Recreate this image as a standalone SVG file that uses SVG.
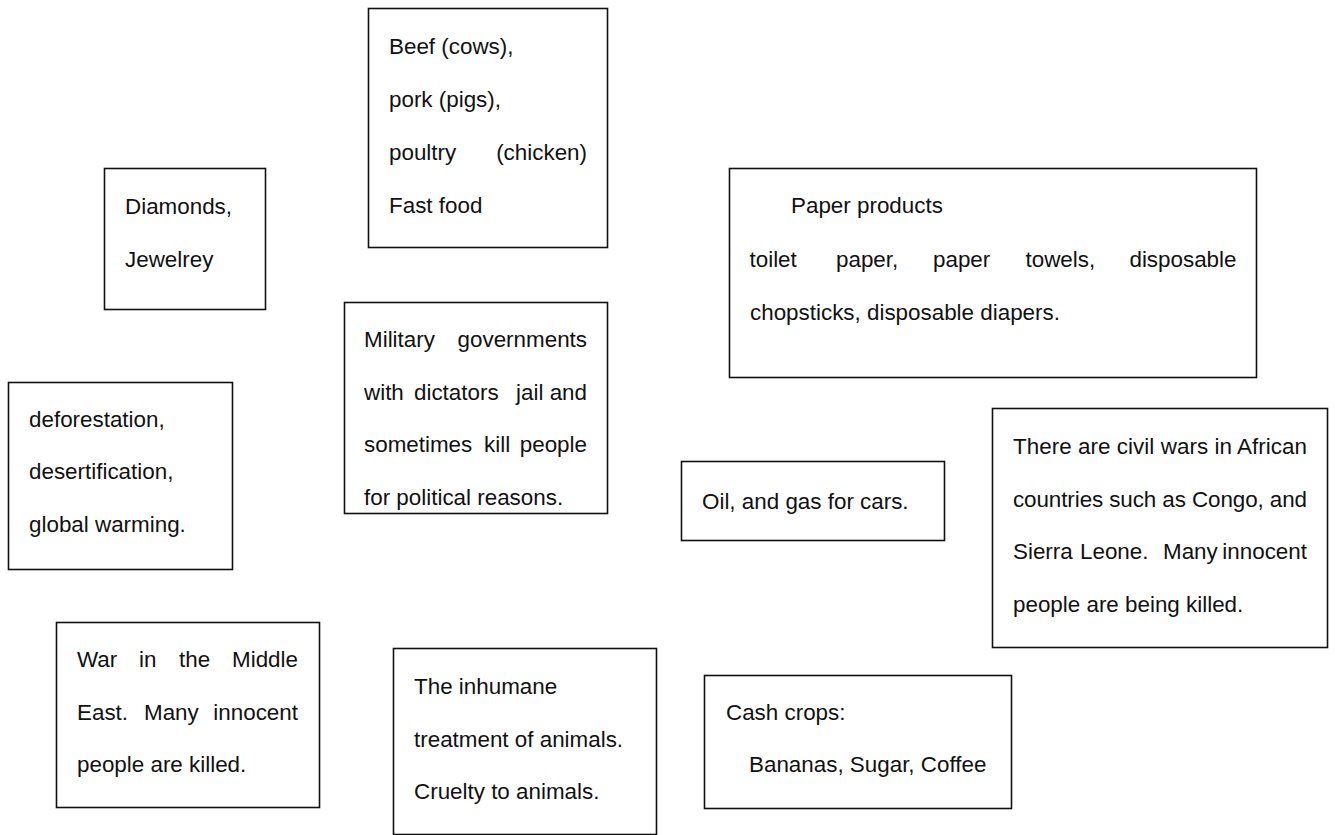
<svg xmlns="http://www.w3.org/2000/svg" width="1335" height="835" viewBox="0 0 1335 835">
<style>
.box{fill:#fff;stroke:#111;stroke-width:1.6}
text{font-family:"Liberation Sans",Arial,sans-serif;font-size:22.4px;fill:#111}
.e{text-anchor:end}
</style>
<rect width="1335" height="835" fill="#fff"/>
<g id="connectors"></g>
<g id="diamonds">
<rect class="box" x="104.5" y="168.5" width="161" height="141"/>
<text x="125" y="214">Diamonds,</text>
<text x="125" y="267">Jewelrey</text>
</g>
<g id="beef">
<rect class="box" x="368.5" y="8.5" width="239" height="239"/>
<text x="389" y="54">Beef (cows),</text>
<text x="389" y="107">pork (pigs),</text>
<text x="389" y="160">poultry</text><text class="e" x="587" y="160">(chicken)</text>
<text x="389" y="213">Fast food</text>
</g>
<g id="paper">
<rect class="box" x="729.5" y="168.5" width="527" height="209"/>
<text x="791" y="213">Paper products</text>
<text y="267"><tspan x="749.5">toilet</tspan><tspan x="836">paper,</tspan><tspan x="933">paper</tspan><tspan x="1025.5">towels,</tspan></text>
<text class="e" x="1236.5" y="267">disposable</text>
<text x="750" y="320">chopsticks, disposable diapers.</text>
</g>
<g id="military">
<rect class="box" x="344.5" y="302.5" width="263" height="211"/>
<text x="364" y="347">Military</text><text class="e" x="587" y="347">governments</text>
<text y="399.5"><tspan x="364">with</tspan><tspan x="414">dictators</tspan><tspan x="516">jail</tspan></text><text class="e" x="587" y="399.5">and</text>
<text y="452"><tspan x="364">sometimes</tspan><tspan x="484">kill</tspan></text><text class="e" x="587" y="452">people</text>
<text x="364" y="505">for political reasons.</text>
</g>
<g id="deforestation">
<rect class="box" x="8.5" y="382.5" width="224" height="187"/>
<text x="29" y="427">deforestation,</text>
<text x="29" y="479">desertification,</text>
<text x="29" y="532">global warming.</text>
</g>
<g id="oil">
<rect class="box" x="681.5" y="461.5" width="263" height="79"/>
<text x="702" y="509">Oil, and gas for cars.</text>
</g>
<g id="civilwars">
<rect class="box" x="992.5" y="408.5" width="335" height="239"/>
<text x="1013" y="454" textLength="294" lengthAdjust="spacing">There are civil wars in African</text>
<text x="1013" y="506.5" textLength="294" lengthAdjust="spacing">countries such as Congo, and</text>
<text y="559"><tspan x="1013">Sierra</tspan><tspan x="1080">Leone.</tspan><tspan x="1163">Many</tspan></text><text class="e" x="1307" y="559">innocent</text>
<text x="1013" y="611.5">people are being killed.</text>
</g>
<g id="middleeast">
<rect class="box" x="56.5" y="622.5" width="263" height="185"/>
<text y="667"><tspan x="77">War</tspan><tspan x="139">in</tspan><tspan x="179">the</tspan></text><text class="e" x="298" y="667">Middle</text>
<text y="720"><tspan x="77">East.</tspan><tspan x="144">Many</tspan></text><text class="e" x="298" y="720">innocent</text>
<text x="77" y="772">people are killed.</text>
</g>
<g id="animals">
<rect class="box" x="393.5" y="648.5" width="263" height="186"/>
<text x="414" y="694">The inhumane</text>
<text x="414" y="747">treatment of animals.</text>
<text x="414" y="799">Cruelty to animals.</text>
</g>
<g id="cashcrops">
<rect class="box" x="704.5" y="675.5" width="307" height="133"/>
<text x="726" y="720">Cash crops:</text>
<text x="749" y="772">Bananas, Sugar, Coffee</text>
</g>
</svg>
